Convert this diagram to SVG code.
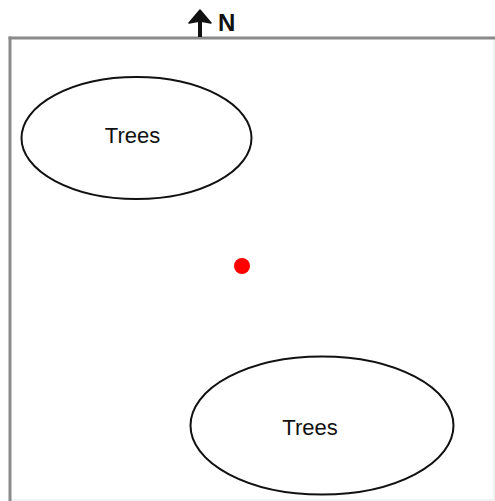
<svg xmlns="http://www.w3.org/2000/svg" width="495" height="501" viewBox="0 0 495 501">
<style>
.tree{fill:none;stroke:#111;stroke-width:2}
.lbl{font-family:"Liberation Sans",Arial,sans-serif;font-size:22px;fill:#111;text-anchor:middle}
</style>
<rect width="495" height="501" fill="#fff"/>
<g id="frame">
<rect x="10" y="38" width="484" height="462" fill="none" stroke="#e4e4e4" stroke-width="1"/>
<line x1="8.5" y1="38" x2="495" y2="38" stroke="#8a8a8a" stroke-width="3"/>
<line x1="10" y1="36.5" x2="10" y2="501" stroke="#8a8a8a" stroke-width="3"/>
</g>
<g id="north">
<line x1="200" y1="20" x2="200" y2="37" stroke="#111" stroke-width="4"/>
<polygon points="200,10 211,23 200,21 189,23" fill="#111" stroke="#111" stroke-width="1.5" stroke-linejoin="round"/>
<text x="218" y="31" style="font-family:'Liberation Sans',Arial,sans-serif;font-size:24px;font-weight:bold;fill:#111">N</text>
</g>
<g id="trees1">
<ellipse class="tree" cx="136.5" cy="138" rx="115" ry="61"/>
<text class="lbl" x="132.5" y="143">Trees</text>
</g>
<g id="trees2">
<ellipse class="tree" cx="322" cy="425.5" rx="131.5" ry="69"/>
<text class="lbl" x="310" y="435">Trees</text>
</g>
<g id="point">
<circle cx="242" cy="266" r="8" fill="#ff0000"/>
</g>
<g id="connectors"></g>
</svg>
